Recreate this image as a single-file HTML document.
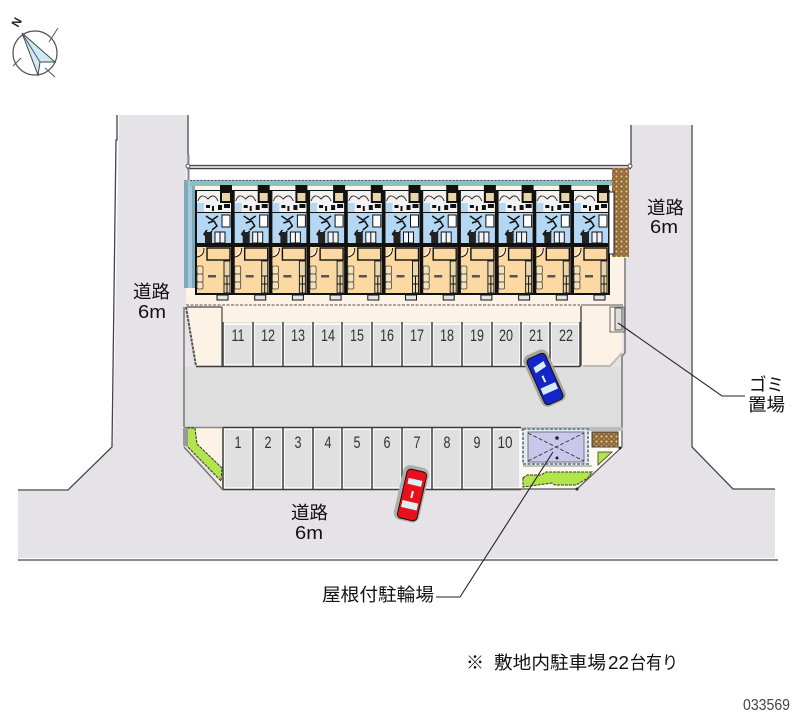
<!DOCTYPE html>
<html><head><meta charset="utf-8"><style>
html,body{margin:0;padding:0;background:#fff}
svg{display:block;filter:blur(.35px)}
text{font-family:"Liberation Sans","Noto Sans CJK JP",sans-serif;fill:#111}
.n{font-size:17px;text-anchor:middle;fill:#333}
.j{font-size:18px}
</style></head><body>
<svg width="800" height="727" viewBox="0 0 800 727" xmlns="http://www.w3.org/2000/svg">
<defs>
<pattern id="brick" width="5" height="5" patternUnits="userSpaceOnUse"><rect width="5" height="5" fill="#8a6a3a"/><circle cx="1.500" cy="1.500" r="1.100" fill="#e8c878"/><circle cx="4" cy="4" r="1" fill="#c47a60"/></pattern>
<g id="unit">
<rect x="0" y="5" width="38" height="105" fill="#111"/>
<rect x="25" y="0" width="12" height="6" fill="#111"/>
<rect x="2" y="6" width="23" height="12" fill="#f4f1f1"/>
<path d="M3 16 Q6 7 13 14 Q19 7 23 16" fill="none" stroke="#333" stroke-width="1"/>
<rect x="27" y="8" width="8" height="8" fill="#e8d6a8"/>
<rect x="2" y="18" width="34" height="9" fill="#f0f4f8"/>
<rect x="2" y="18" width="7" height="9" fill="#b4d8f4"/>
<path d="M11 20h4v3h-4zM17 21h2v5h-2zM23 20h4v5h-4zM29 19h6v4h-6z" fill="#111"/>
<rect x="2" y="28" width="34" height="30" fill="#b4d8f4"/>
<rect x="27" y="30" width="8" height="12" fill="#fff" stroke="#111"/>
<path d="M11 31l6 4 6-4M13 38l6-2 3 5-5 4M12 45l-3 4 3 3 5-6" fill="none" stroke="#111" stroke-width="1.500"/>
<rect x="10" y="47" width="7" height="11" fill="#222"/>
<rect x="20" y="47" width="10" height="11" fill="#eef4fa" stroke="#111"/>
<path d="M25 47v11" stroke="#111"/>
<rect x="2" y="62" width="34" height="46" fill="#fcd9a3"/>
<rect x="12" y="63" width="23" height="12" fill="#fcd9a3" stroke="#111" stroke-width="1.400"/>
<path d="M2 72 Q9 71 9 63" fill="#fff4e0" stroke="#111"/>
<rect x="2" y="81" width="6" height="8" rx="1.500" fill="#f6e2b8" stroke="#444" stroke-width=".8"/>
<rect x="9" y="84" width="-1" height="0"/>
<rect x="2" y="89" width="6" height="8" rx="1.500" fill="#f6e2b8" stroke="#444" stroke-width=".8"/>
<rect x="2" y="97" width="6" height="7" rx="1.500" fill="#f6e2b8" stroke="#444" stroke-width=".8"/>
<rect x="13" y="90" width="8" height="2.500" fill="#555"/>
<rect x="29" y="76" width="6" height="32" fill="#e9d6ac" stroke="#222"/>
<path d="M29 91h6M29 99h6M32 91v17" stroke="#111" stroke-width="1"/>
<rect x="22" y="110" width="11" height="5" fill="#e6e6e6" stroke="#111"/>
</g>
</defs>

<!-- roads -->
<path d="M119 115H187V166H631V125H691V447L732 489H775V558H18V491H68L113 447Z" fill="#e6e3e8"/>
<path d="M117 115V140L116 140L112 447L68 490H18M188 115V166M631 166V125M692 125V447L733 489H775M18 560H778" fill="none" stroke="#444" stroke-width="1.300"/>

<!-- site -->
<rect x="186" y="170" width="440" height="136" fill="#fdf4ea"/>
<rect x="189" y="170" width="423" height="9" fill="#fff"/>
<path d="M187 296H612V322H222V366H196L187 307Z" fill="#fdf2e6"/>
<path d="M580 305H622V353L610 366H580Z" fill="#fdf2e6"/>
<rect x="612" y="257" width="14" height="50" fill="#fdf2e6"/>
<rect x="183" y="367" width="439" height="60" fill="#dedede"/>
<rect x="222" y="322" width="358" height="45" fill="#e0e0e0"/>
<path d="M223 428H521V490H223Z" fill="#e0e0e0"/>
<path d="M520 428H622V449L577 489H520Z" fill="#fdf8f0"/>
<path d="M187 428H222V490Z" fill="#fdf2e6"/>

<!-- fence -->
<path d="M187 165.500H631M187 168.500H631" stroke="#444" stroke-width="1.200" fill="none"/>
<path d="M188.500 155V180" stroke="#888" stroke-width="2"/>
<circle cx="188" cy="166" r="2" fill="#fff" stroke="#555"/><circle cx="630" cy="166" r="2" fill="#fff" stroke="#555"/>

<!-- building -->
<rect x="184" y="180" width="11" height="108" fill="#7fa8b8"/>
<rect x="188" y="180" width="4" height="108" fill="#a5c8da"/>
<rect x="190" y="180" width="422" height="6" fill="#8cc0b8"/>
<path d="M190 180.500H612" stroke="#557" stroke-dasharray="2 1.500" stroke-width="1"/>
<use href="#unit" x="195" y="185"/><use href="#unit" x="232.700" y="185"/><use href="#unit" x="270.400" y="185"/><use href="#unit" x="308.100" y="185"/><use href="#unit" x="345.800" y="185"/><use href="#unit" x="383.500" y="185"/><use href="#unit" x="421.200" y="185"/><use href="#unit" x="458.900" y="185"/><use href="#unit" x="496.600" y="185"/><use href="#unit" x="534.300" y="185"/><use href="#unit" x="572" y="185"/>
<rect x="612" y="168" width="17" height="89" fill="url(#brick)"/>
<rect x="609" y="192" width="5" height="62" fill="#fff" stroke="#222"/>
<path d="M186 305H580" stroke="#555" stroke-width="1" stroke-dasharray="3 1.500"/>

<!-- site walls -->
<path d="M184 307V427" stroke="#777" stroke-width="1.500"/>
<path d="M186 307L196 366" stroke="#555" stroke-width="2" stroke-dasharray="3 1"/>
<path d="M222 307H187M222 307V366" stroke="#666" stroke-width="1.500" fill="none"/>
<path d="M581 306V366" stroke="#555" stroke-width="1.500"/><path d="M581 305H623" stroke="#555" stroke-width="1"/>
<path d="M625 258V353L622 356V447" stroke="#777" stroke-width="1.500" fill="none"/>
<path d="M583 366H610L622 353" stroke="#bbb" stroke-width="2" fill="none"/>
<rect x="610" y="307" width="14" height="25" fill="#fdf2e6" stroke="#666"/>
<rect x="615" y="308" width="7" height="22" fill="#ddd" stroke="#555"/>

<!-- parking grid -->
<g fill="none" stroke="#fff" stroke-width="1.500">
<path d="M224 324H252V365H224Z M254 324H282V365H254Z M284 324H312V365H284Z M314 324H341V365H314Z M343 324H371V365H343Z M373 324H401V365H373Z M403 324H431V365H403Z M433 324H461V365H433Z M463 324H491V365H463Z M493 324H520V365H493Z M522 324H549V365H522Z M551 324H579V365H551Z"/>
<path d="M224 429H252V488H224Z M254 429H282V488H254Z M284 429H312V488H284Z M314 429H341V488H314Z M343 429H371V488H343Z M373 429H401V488H373Z M403 429H431V488H403Z M433 429H461V488H433Z M463 429H491V488H463Z M493 429H520V488H493Z"/>
</g>
<g stroke="#3c3c3c" stroke-width="1.500" fill="none">
<path d="M223 322V367M253 322V367M283 322V367M313 322V367M342 322V367M372 322V367M402 322V367M432 322V367M462 322V367M492 322V367M521 322V367M550 322V367M580 322V367"/>
<path d="M223 428V490M253 428V490M283 428V490M313 428V490M342 428V490M372 428V490M402 428V490M432 428V490M462 428V490M492 428V490"/>
<path d="M196 366.500H580M223 427.500H521M223 489.500H521"/>
</g>
<path d="M184 427.500H223" stroke="#888" stroke-width="1.500"/>
<g>
<text class="n" textLength="13" lengthAdjust="spacingAndGlyphs" x="238" y="341">11</text><text class="n" textLength="14" lengthAdjust="spacingAndGlyphs" x="268" y="341">12</text><text class="n" textLength="14" lengthAdjust="spacingAndGlyphs" x="298" y="341">13</text><text class="n" textLength="14" lengthAdjust="spacingAndGlyphs" x="328" y="341">14</text><text class="n" textLength="14" lengthAdjust="spacingAndGlyphs" x="357" y="341">15</text><text class="n" textLength="14" lengthAdjust="spacingAndGlyphs" x="387" y="341">16</text><text class="n" textLength="14" lengthAdjust="spacingAndGlyphs" x="417" y="341">17</text><text class="n" textLength="14" lengthAdjust="spacingAndGlyphs" x="447" y="341">18</text><text class="n" textLength="14" lengthAdjust="spacingAndGlyphs" x="477" y="341">19</text><text class="n" textLength="14" lengthAdjust="spacingAndGlyphs" x="506" y="341">20</text><text class="n" textLength="14" lengthAdjust="spacingAndGlyphs" x="536" y="341">21</text><text class="n" textLength="14" lengthAdjust="spacingAndGlyphs" x="566" y="341">22</text>
<text class="n" textLength="7" lengthAdjust="spacingAndGlyphs" x="238" y="448">1</text><text class="n" textLength="7" lengthAdjust="spacingAndGlyphs" x="268" y="448">2</text><text class="n" textLength="7" lengthAdjust="spacingAndGlyphs" x="298" y="448">3</text><text class="n" textLength="7" lengthAdjust="spacingAndGlyphs" x="328" y="448">4</text><text class="n" textLength="7" lengthAdjust="spacingAndGlyphs" x="357" y="448">5</text><text class="n" textLength="7" lengthAdjust="spacingAndGlyphs" x="387" y="448">6</text><text class="n" textLength="7" lengthAdjust="spacingAndGlyphs" x="417" y="448">7</text><text class="n" textLength="7" lengthAdjust="spacingAndGlyphs" x="447" y="448">8</text><text class="n" textLength="7" lengthAdjust="spacingAndGlyphs" x="477" y="448">9</text><text class="n" textLength="15" lengthAdjust="spacingAndGlyphs" x="505" y="448">10</text>
</g>

<!-- lower-left planting -->
<path d="M187 428H195L197 444L222 468L221 481L186 445Z" fill="#b2e44c" stroke="#333" stroke-width="1" stroke-dasharray="3 1"/>
<path d="M184 447L223 490" stroke="#777" stroke-width="1.500"/>
<rect x="183" y="428" width="5" height="18" fill="#999"/>

<!-- lower-right facilities -->
<rect x="521" y="427" width="102" height="4" fill="#bcbcbc"/>
<rect x="523" y="429" width="65" height="35" fill="#e8e8f0" stroke="#6f8f98" stroke-width="2" stroke-dasharray="3 1.500"/>
<rect x="528" y="432" width="56" height="30" fill="#c8c8ec" stroke="#777" stroke-width="1"/>
<path d="M528 433L584 461M528 461L584 433" stroke="#444" stroke-width="1" stroke-dasharray="4 2"/>
<circle cx="557" cy="438" r="1.800" fill="#222"/><circle cx="557" cy="458" r="1.500" fill="#222"/>
<rect x="592" y="432" width="26" height="15" fill="url(#brick)" stroke="#444"/>
<path d="M598 452H612L598 465Z" fill="#b2e44c" stroke="#333" stroke-width=".8"/>
<path d="M523 478L527 475H541L546 472H592L588 478L576 485H555L552 483L523 487Z" fill="#b2e44c" stroke="#333" stroke-width="1" stroke-dasharray="3 1"/>
<path d="M523 466H592" stroke="#888" stroke-width="1"/>
<path d="M622 447L620 449L577 489H493" stroke="#555" stroke-width="1.200" fill="none"/>
<circle cx="620" cy="448" r="1.500" fill="#222"/><circle cx="577" cy="489" r="1.500" fill="#222"/>

<!-- blue car -->
<g transform="translate(545 379) rotate(-24)">
<rect x="-13" y="-29" width="26" height="56" rx="7" fill="#a8a29a"/>
<rect x="-10" y="-25" width="20" height="50" rx="4" fill="#1426c8" stroke="#111" stroke-width="1"/>
<path d="M-6 -15L6 -17V-11L-6 -9Z" fill="#d8ecf4"/>
<path d="M-8 7H8V14H-8Z" fill="#d8ecf4"/>
<path d="M-1 -4V3" stroke="#dfe" stroke-width="2"/>
</g>
<!-- red car -->
<g transform="translate(412 495) rotate(13)">
<rect x="-14" y="-29" width="26" height="56" rx="7" fill="#b4acac"/>
<rect x="-10" y="-25" width="20" height="50" rx="4" fill="#e8101a" stroke="#111" stroke-width="1"/>
<path d="M-7 -16H7V-10H-7Z" fill="#dff0f4"/>
<path d="M-8 7H8V14H-8Z" fill="#dff0f4"/>
<path d="M0 -4V3" stroke="#fff" stroke-width="2"/>
</g>

<!-- leaders -->
<path d="M618 323L722 396H745" stroke="#222" stroke-width="1.100" fill="none"/>
<path d="M436 597H460L553 452" stroke="#222" stroke-width="1.100" fill="none"/>

<!-- labels -->
<text class="j" x="647" y="214" textLength="37" lengthAdjust="spacingAndGlyphs">道路</text>
<text class="j" x="650" y="233" textLength="28" lengthAdjust="spacingAndGlyphs">6m</text>
<text class="j" x="133" y="298" textLength="37" lengthAdjust="spacingAndGlyphs">道路</text>
<text class="j" x="138" y="318" textLength="28" lengthAdjust="spacingAndGlyphs">6m</text>
<text class="j" x="291" y="519" textLength="37" lengthAdjust="spacingAndGlyphs">道路</text>
<text class="j" x="295" y="539" textLength="28" lengthAdjust="spacingAndGlyphs">6m</text>
<text class="j" x="749" y="391" textLength="35" lengthAdjust="spacingAndGlyphs">ゴミ</text>
<text class="j" x="748" y="411" textLength="37" lengthAdjust="spacingAndGlyphs">置場</text>
<text class="j" x="322" y="601" textLength="112" lengthAdjust="spacingAndGlyphs">屋根付駐輪場</text>
<text class="j" x="466" y="669">※</text>
<text class="j" x="494" y="669" textLength="112" lengthAdjust="spacingAndGlyphs">敷地内駐車場</text>
<text class="j" x="608" y="669" textLength="21" lengthAdjust="spacingAndGlyphs">22</text>
<text class="j" x="630" y="669" textLength="48" lengthAdjust="spacingAndGlyphs">台有り</text>
<text x="743" y="710" textLength="47" lengthAdjust="spacingAndGlyphs" style="font-size:16px;fill:#444">033569</text>

<!-- compass -->
<circle cx="35" cy="53" r="22" fill="none" stroke="#555" stroke-width="1.200"/>
<path d="M22 33L55 62L40 62L38 75Z" fill="#cfeaf5" stroke="#444" stroke-width="1"/>
<path d="M22 33L40 62M49 42L58 28M13 66L21 58M45 68L55 77" stroke="#555" stroke-width="1"/>
<text x="0" y="0" transform="translate(18 28) rotate(-60)" style="font-size:12px;font-weight:bold;fill:#222">N</text>
</svg>
</body></html>
